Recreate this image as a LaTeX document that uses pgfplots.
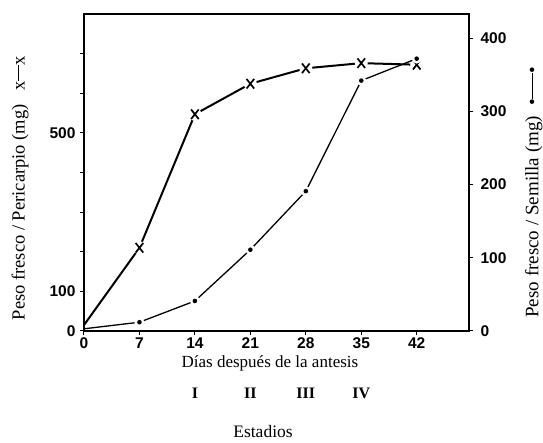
\documentclass[border=0pt]{standalone}
\usepackage{fontspec}
\setmainfont{Liberation Serif}
\newfontfamily\tickfont{Liberation Sans}
\usepackage{pgfplots}
\usepackage{pgfplotstable}
\pgfplotsset{compat=1.18}

% x mark and dot with a white gap round them, as in the printed figure
\pgfdeclareplotmark{gapx}{%
  \pgfpathcircle{\pgfpointorigin}{6.5pt}%
  \pgfsetfillcolor{white}\pgfusepathqfill
  \pgfsetlinewidth{1.7pt}%
  \pgfpathmoveto{\pgfpoint{-3.8pt}{-4.8pt}}\pgfpathlineto{\pgfpoint{3.8pt}{4.8pt}}%
  \pgfpathmoveto{\pgfpoint{-3.8pt}{4.8pt}}\pgfpathlineto{\pgfpoint{3.8pt}{-4.8pt}}%
  \pgfusepathqstroke}
\pgfdeclareplotmark{gapdot}{%
  \pgfpathcircle{\pgfpointorigin}{5pt}%
  \pgfsetfillcolor{white}\pgfusepathqfill
  \pgfpathcircle{\pgfpointorigin}{2.3pt}%
  \pgfsetfillcolor{black}\pgfusepathqfill}

\pgfplotstableread{
dias peso
0 15
7 210
14 547
21 624
28 663
35 676
42 672
}\pericarpio

\pgfplotstableread{
dias peso
0 3
7 12
14 41
21 111
28 191
35 342
42 372
}\semilla

\pgfplotsset{base/.style={scale only axis,width=385pt,height=317pt,
  xmin=0,xmax=48.6,clip=false,tick align=outside,major tick length=4pt,
  tick style={black,line width=1pt},axis line style={line width=1.6pt},
  ticklabel style={font=\tickfont\bfseries\fontsize{15.5}{16}\selectfont}}}

\begin{document}
\begin{tikzpicture}
\useasboundingbox (-84pt,-112pt) rectangle (459pt,331pt);
\begin{axis}[base,ymin=0,ymax=800,
  ytick={0,100,...,700},yticklabels={0,100,{},{},{},500,{},{}},ytick pos=left,
  xtick={0,7,...,42},xticklabels={0,7,14,21,28,35,42},xtick pos=bottom,
  yticklabel style={xshift=-1pt},xticklabel style={yshift=1pt}]
\addplot[black,line width=2pt,mark=gapx,mark indices={2,3,4,5,6,7}] table[x=dias,y=peso] {\pericarpio};
\node[rotate=90,font=\fontsize{18.5}{20}\selectfont] at (rel axis cs:-0.166,0.451)
  {Peso fresco / Pericarpio (mg)\hspace{14pt}x\rule[0.28em]{16pt}{1.2pt}x};
\node[font=\fontsize{17}{19}\selectfont] at (rel axis cs:0.483,-0.102) {Días después de la antesis};
\node[font=\bfseries\fontsize{16}{18}\selectfont] at (axis cs:14,-157) {I};
\node[font=\bfseries\fontsize{16}{18}\selectfont] at (axis cs:21,-157) {II};
\node[font=\bfseries\fontsize{16}{18}\selectfont] at (axis cs:28,-157) {III};
\node[font=\bfseries\fontsize{16}{18}\selectfont] at (axis cs:35,-157) {IV};
\node[font=\fontsize{17.5}{19}\selectfont] at (rel axis cs:0.465,-0.318) {Estadios};
\end{axis}
\begin{axis}[base,ymin=0,ymax=433,axis y line*=right,axis x line=none,
  ytick={0,100,...,400},yticklabels={0,100,200,300,400},
  yticklabel style={xshift=4pt}]
\addplot[black,line width=1.3pt,mark=gapdot,mark indices={2,3,4,5,6,7}] table[x=dias,y=peso] {\semilla};
\node[rotate=90,font=\fontsize{19}{20}\selectfont] at (rel axis cs:1.168,0.438)
  {Peso fresco / Semilla (mg)\hspace{10pt}\textbullet\rule[0.28em]{26pt}{1.2pt}\textbullet};
\end{axis}
\end{tikzpicture}
\end{document}
